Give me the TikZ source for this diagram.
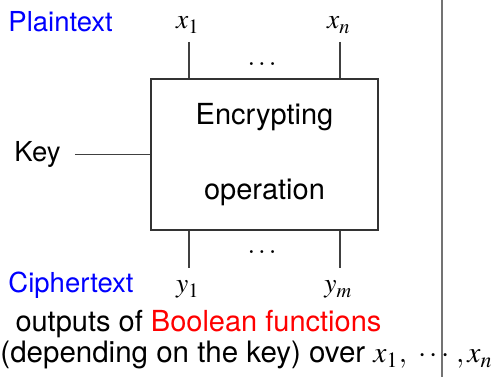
\documentclass[tikz,border=0pt]{standalone}
\usepackage{mathptmx}
\usepackage[no-math]{fontspec}
\setmainfont{TeX Gyre Heros}
\usepackage{xcolor}
\usetikzlibrary{positioning, calc}

\begin{document}
\begin{tikzpicture}[x=0.4pt, y=0.4pt,
	lbl/.style={inner sep=0pt, font=\fontsize{11}{13}\selectfont},
	big/.style={inner sep=0pt, font=\fontsize{11.6}{14}\selectfont},
	wire/.style={draw=black!75, line width=0.45pt}]
	\useasboundingbox (0,0) rectangle (496,377);
	% the encryption box
	\node [draw=black!80, line width=0.45pt, minimum width=90.8pt, minimum height=60.4pt, inner sep=0pt] (box) at (264.5,222.5) {};
	\node [big, anchor=base] (enc) at (264.5,252) {Encrypting};
	\node [big, anchor=base] (oper) at (264.5,177) {operation};
	% inputs
	\node [lbl, anchor=base west, blue] (plain) at (8,345) {Plaintext};
	\node [lbl, anchor=base] (x1) at (188,348) {$x_1$};
	\node [lbl, anchor=base] (xn) at (339,348) {$x_n$};
	\coordinate (x1end) at (189,335);
	\coordinate (xnend) at (340,335);
	\draw [wire] (x1end) -- (x1end |- box.north);
	\draw [wire] (xnend) -- (xnend |- box.north);
	\node [lbl, anchor=base] (dotsin) at (262,311) {$\dots$};
	% key
	\node [lbl, anchor=base west] (key) at (14,215) {Key};
	\coordinate (keyend) at (75,222.5);
	\draw [wire] (keyend) -- (box.west);
	% outputs
	\coordinate (y1end) at (189,109);
	\coordinate (ymend) at (340,109);
	\draw [wire] (y1end |- box.south) -- (y1end);
	\draw [wire] (ymend |- box.south) -- (ymend);
	\node [lbl, anchor=base] (dotsout) at (262,123) {$\dots$};
	\node [lbl, anchor=base west, blue] (cipher) at (8,84) {Ciphertext};
	\node [lbl, anchor=base] (y1) at (188,84) {$y_1$};
	\node [lbl, anchor=base] (ym) at (338.5,84) {$y_m$};
	% explanation
	\node [big, anchor=base west] (outs) at (15,45) {outputs of \textcolor{red}{Boolean functions}};
	\node [inner sep=0pt, font=\fontsize{11.8}{14}\selectfont, anchor=base west] (dep) at (0,14) {(depending on the key) over $\mathsurround=0pt x_1,\ \cdots\,,x_n$};
	% separator
	\draw [black!55, line width=0.8pt] (442,0) -- (442,377);
\end{tikzpicture}
\end{document}
